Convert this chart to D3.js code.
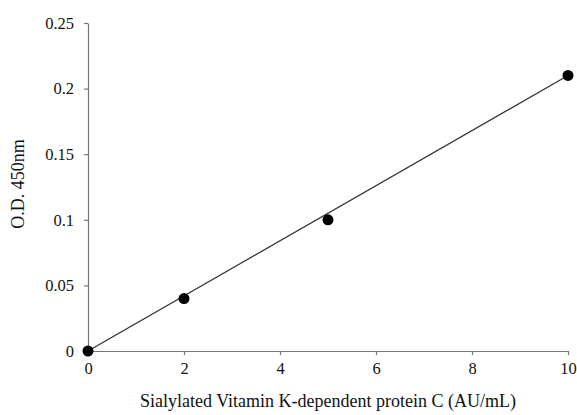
<!DOCTYPE html>
<html>
<head>
<meta charset="utf-8">
<script src="https://cdn.jsdelivr.net/npm/d3@7"></script>
<style>
  body { margin: 0; background: #fff; }
  text { font-family: "Liberation Serif", "Times New Roman", serif; }
</style>
</head>
<body>
<div id="chart"></div>
<script>
// data
var concentration = [0, 2, 5, 10];
var od450 = [0, 0.04, 0.1, 0.21];
var xTicks = [0, 2, 4, 6, 8, 10];
var yTicks = [0, 0.05, 0.1, 0.15, 0.2, 0.25];
var yTickLabels = ["0", "0.05", "0.1", "0.15", "0.2", "0.25"];
var fitLine = [[0, 0], [10, 0.21]];

var margin = {top: 23, right: 9, bottom: 64, left: 88};
var width = 577 - margin.left - margin.right;
var height = 415 - margin.top - margin.bottom;

var svg = d3.select("#chart")
  .append("svg")
  .attr("width", 577)
  .attr("height", 415)
  .append("g")
  .attr("transform", "translate(" + margin.left + "," + margin.top + ")");

var x = d3.scaleLinear().domain([0, 10]).range([0, width]);
var y = d3.scaleLinear().domain([0, 0.25]).range([height, 0]);

// X axis
var xAxis = svg.append("g")
  .attr("transform", "translate(0," + height + ")")
  .call(d3.axisBottom(x).tickValues(xTicks).tickSize(4).tickSizeOuter(0).tickPadding(7));

// Y axis
var yAxis = svg.append("g")
  .call(d3.axisLeft(y).tickValues(yTicks).tickSize(4).tickSizeOuter(0).tickPadding(10)
    .tickFormat(function(d, i) { return yTickLabels[i]; }));

[xAxis, yAxis].forEach(function(a) {
  a.attr("font-size", 16.5).attr("font-family", "'Liberation Serif', serif");
  a.select(".domain").attr("stroke", "#767676").attr("stroke-width", 1.2);
  a.selectAll(".tick line").attr("stroke", "#767676").attr("stroke-width", 1.2);
  a.selectAll(".tick text").attr("fill", "#111");
});

// fitted line
svg.append("path")
  .datum(fitLine)
  .attr("fill", "none")
  .attr("stroke", "#333")
  .attr("stroke-width", 1.3)
  .attr("d", d3.line()
    .x(function(d) { return x(d[0]); })
    .y(function(d) { return y(d[1]); }));

// points
svg.selectAll("circle.pt")
  .data(concentration)
  .enter()
  .append("circle")
  .attr("class", "pt")
  .attr("cx", function(d) { return x(d); })
  .attr("cy", function(d, i) { return y(od450[i]); })
  .attr("r", 5.5)
  .attr("fill", "#000");

// axis titles
svg.append("text")
  .attr("x", 328 - margin.left)
  .attr("y", height + 56)
  .attr("text-anchor", "middle")
  .attr("font-size", 18)
  .attr("fill", "#111")
  .text("Sialylated Vitamin K-dependent protein C (AU/mL)");

svg.append("text")
  .attr("transform", "translate(" + (-64) + "," + (184 - margin.top) + ") rotate(-90)")
  .attr("text-anchor", "middle")
  .attr("font-size", 18)
  .attr("fill", "#111")
  .text("O.D. 450nm");
</script>
</body>
</html>
